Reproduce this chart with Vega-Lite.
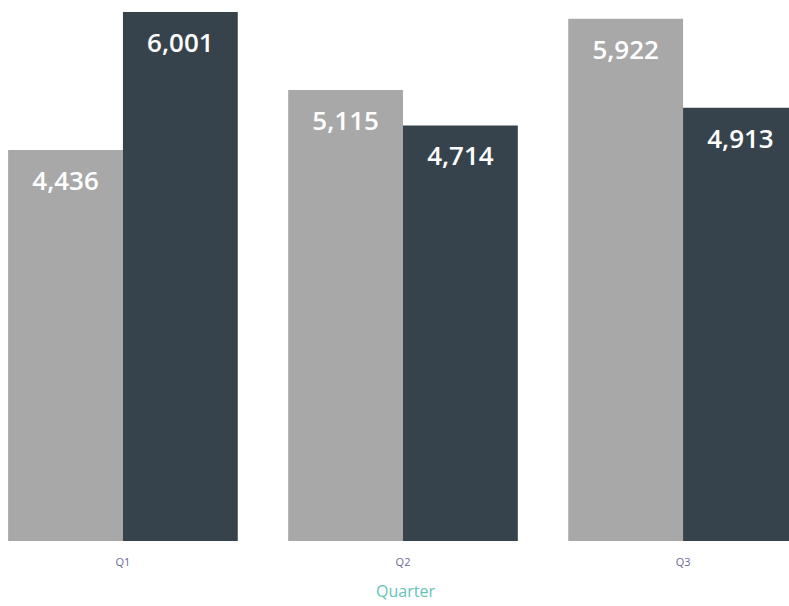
{
  "$schema": "https://vega.github.io/schema/vega-lite/v6.json",
  "width": 789,
  "height": 541,
  "autosize": "none",
  "padding": {"left": 0, "top": 0, "right": 0, "bottom": 65},
  "background": "white",
  "config": {"view": {"stroke": null}},
  "data": {
    "values": [
      {"quarter": "Q1", "series": "Last Year", "value": 4436},
      {"quarter": "Q1", "series": "This Year", "value": 6001},
      {"quarter": "Q2", "series": "Last Year", "value": 5115},
      {"quarter": "Q2", "series": "This Year", "value": 4714},
      {"quarter": "Q3", "series": "Last Year", "value": 5922},
      {"quarter": "Q3", "series": "This Year", "value": 4913}
    ]
  },
  "encoding": {
    "x": {
      "field": "quarter",
      "type": "nominal",
      "scale": {"range": [0, 806], "paddingInner": 0.18, "paddingOuter": 0.029},
      "axis": {
        "title": "Quarter",
        "labelAngle": 0,
        "domain": false,
        "ticks": false,
        "labelPadding": 15,
        "labelFont": "Open Sans",
        "labelFontSize": 11,
        "labelColor": "#6a6a96",
        "titleFont": "Open Sans",
        "titleFontSize": 16,
        "titleFontWeight": "normal",
        "titleColor": "#62c3b6",
        "titlePadding": 16,
        "titleX": 405
      }
    },
    "xOffset": {"field": "series", "type": "nominal", "scale": {"paddingInner": 0, "paddingOuter": 0}},
    "y": {
      "field": "value",
      "type": "quantitative",
      "scale": {"domain": [0, 6136], "nice": false},
      "axis": null
    }
  },
  "layer": [
    {
      "mark": {"type": "bar"},
      "encoding": {
        "color": {
          "field": "series",
          "type": "nominal",
          "scale": {"domain": ["Last Year", "This Year"], "range": ["#a8a8a8", "#36434c"]},
          "legend": null
        }
      }
    },
    {
      "mark": {
        "type": "text",
        "baseline": "middle",
        "align": "center",
        "dy": 32,
        "font": "Open Sans",
        "fontSize": 26,
        "fontWeight": 600,
        "color": "white"
      },
      "encoding": {
        "text": {"field": "value", "type": "quantitative", "format": ",.0f"}
      }
    }
  ]
}
